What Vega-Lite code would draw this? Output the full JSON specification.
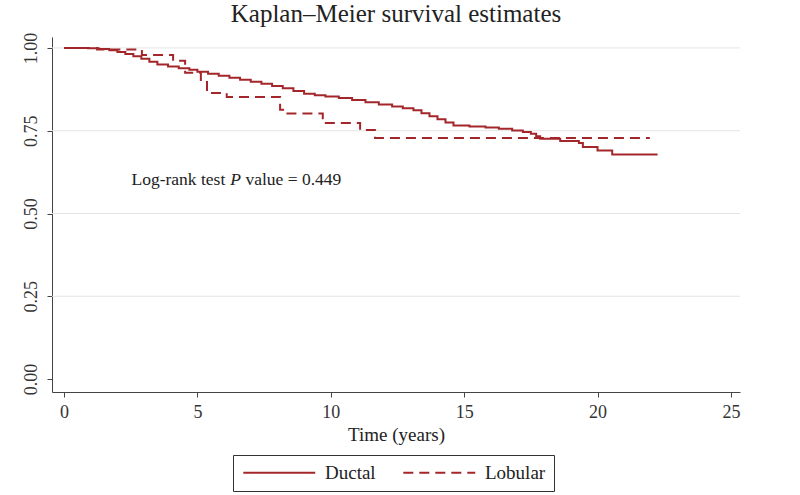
{
  "$schema": "https://vega.github.io/schema/vega-lite/v6.json",
  "width": 688,
  "height": 355,
  "autosize": {"type": "none"},
  "padding": {"left": 52, "top": 37, "right": 60, "bottom": 103},
  "background": "white",
  "config": {
    "font": "Liberation Serif",
    "view": {"stroke": null}
  },
  "title": {
    "text": "Kaplan–Meier survival estimates",
    "font": "Liberation Serif",
    "fontSize": 25,
    "fontWeight": "normal",
    "color": "#222222",
    "anchor": "middle",
    "offset": 5
  },
  "layer": [
    {
      "data": {"values": [{"surv": 0.25}, {"surv": 0.5}, {"surv": 0.75}, {"surv": 1.0}]},
      "mark": {"type": "rule", "color": "#e4e4e4", "strokeWidth": 1},
      "encoding": {
        "y": {"field": "surv", "type": "quantitative"}
      }
    },
    {
      "data": {"values": [
        {"group": "Ductal", "time": 0, "surv": 1.0},
        {"group": "Ductal", "time": 0.9, "surv": 0.999},
        {"group": "Ductal", "time": 1.3, "surv": 0.997},
        {"group": "Ductal", "time": 1.7, "surv": 0.993},
        {"group": "Ductal", "time": 2.0, "surv": 0.988},
        {"group": "Ductal", "time": 2.3, "surv": 0.982},
        {"group": "Ductal", "time": 2.6, "surv": 0.975},
        {"group": "Ductal", "time": 2.9, "surv": 0.967},
        {"group": "Ductal", "time": 3.2, "surv": 0.958},
        {"group": "Ductal", "time": 3.5, "surv": 0.95},
        {"group": "Ductal", "time": 3.9, "surv": 0.944},
        {"group": "Ductal", "time": 4.3, "surv": 0.939},
        {"group": "Ductal", "time": 4.7, "surv": 0.934},
        {"group": "Ductal", "time": 5.0, "surv": 0.928},
        {"group": "Ductal", "time": 5.4, "surv": 0.922},
        {"group": "Ductal", "time": 5.8, "surv": 0.916},
        {"group": "Ductal", "time": 6.2, "surv": 0.91},
        {"group": "Ductal", "time": 6.6, "surv": 0.904},
        {"group": "Ductal", "time": 7.0, "surv": 0.898},
        {"group": "Ductal", "time": 7.4, "surv": 0.892},
        {"group": "Ductal", "time": 7.8, "surv": 0.885},
        {"group": "Ductal", "time": 8.2, "surv": 0.878},
        {"group": "Ductal", "time": 8.6, "surv": 0.87},
        {"group": "Ductal", "time": 9.0, "surv": 0.862},
        {"group": "Ductal", "time": 9.4, "surv": 0.857},
        {"group": "Ductal", "time": 9.8, "surv": 0.853},
        {"group": "Ductal", "time": 10.3, "surv": 0.849},
        {"group": "Ductal", "time": 10.8, "surv": 0.843},
        {"group": "Ductal", "time": 11.3, "surv": 0.836},
        {"group": "Ductal", "time": 11.8, "surv": 0.829},
        {"group": "Ductal", "time": 12.3, "surv": 0.823},
        {"group": "Ductal", "time": 12.7, "surv": 0.818},
        {"group": "Ductal", "time": 13.1, "surv": 0.812},
        {"group": "Ductal", "time": 13.4, "surv": 0.803},
        {"group": "Ductal", "time": 13.7, "surv": 0.794},
        {"group": "Ductal", "time": 14.0, "surv": 0.785},
        {"group": "Ductal", "time": 14.3, "surv": 0.775},
        {"group": "Ductal", "time": 14.6, "surv": 0.766},
        {"group": "Ductal", "time": 15.2, "surv": 0.763},
        {"group": "Ductal", "time": 15.8, "surv": 0.76},
        {"group": "Ductal", "time": 16.3, "surv": 0.756},
        {"group": "Ductal", "time": 16.8, "surv": 0.751},
        {"group": "Ductal", "time": 17.2, "surv": 0.746},
        {"group": "Ductal", "time": 17.5, "surv": 0.741},
        {"group": "Ductal", "time": 17.7, "surv": 0.733},
        {"group": "Ductal", "time": 17.85, "surv": 0.726},
        {"group": "Ductal", "time": 18.6, "surv": 0.719},
        {"group": "Ductal", "time": 19.3, "surv": 0.713},
        {"group": "Ductal", "time": 19.45, "surv": 0.701},
        {"group": "Ductal", "time": 20.0, "surv": 0.69},
        {"group": "Ductal", "time": 20.55, "surv": 0.678},
        {"group": "Ductal", "time": 22.25, "surv": 0.678},
        {"group": "Lobular", "time": 0, "surv": 1.0},
        {"group": "Lobular", "time": 1.24, "surv": 0.995},
        {"group": "Lobular", "time": 2.92, "surv": 0.979},
        {"group": "Lobular", "time": 4.09, "surv": 0.961},
        {"group": "Lobular", "time": 4.54, "surv": 0.925},
        {"group": "Lobular", "time": 5.13, "surv": 0.897},
        {"group": "Lobular", "time": 5.36, "surv": 0.864},
        {"group": "Lobular", "time": 6.1, "surv": 0.852},
        {"group": "Lobular", "time": 8.1, "surv": 0.813},
        {"group": "Lobular", "time": 8.28, "surv": 0.802},
        {"group": "Lobular", "time": 9.7, "surv": 0.773},
        {"group": "Lobular", "time": 11.1, "surv": 0.752},
        {"group": "Lobular", "time": 11.66, "surv": 0.728},
        {"group": "Lobular", "time": 21.96, "surv": 0.728}
      ]},
      "mark": {"type": "line", "interpolate": "step-after", "color": "#a3262a", "strokeWidth": 2},
      "encoding": {
        "x": {
          "field": "time", "type": "quantitative",
          "scale": {"domain": [-0.45, 25.34], "nice": false, "zero": false},
          "axis": {
            "title": "Time (years)",
            "values": [0, 5, 10, 15, 20, 25],
            "grid": false,
            "domainColor": "#444444",
            "tickColor": "#444444",
            "tickSize": 5,
            "labelFont": "Liberation Serif",
            "labelFontSize": 18,
            "labelColor": "#333333",
            "labelPadding": 6,
            "titleFont": "Liberation Serif",
            "titleFontSize": 19,
            "titleFontWeight": "normal",
            "titleColor": "#222222",
            "titlePadding": 4
          }
        },
        "y": {
          "field": "surv", "type": "quantitative",
          "scale": {"domain": [-0.039, 1.033], "nice": false, "zero": false},
          "axis": {
            "title": null,
            "values": [0, 0.25, 0.5, 0.75, 1],
            "format": ".2f",
            "grid": false,
            "domainColor": "#444444",
            "tickColor": "#444444",
            "tickSize": 5,
            "labelAngle": -90,
            "labelAlign": "center",
            "labelBaseline": "alphabetic",
            "labelPadding": 11,
            "labelFont": "Liberation Serif",
            "labelFontSize": 18,
            "labelColor": "#333333"
          }
        },
        "strokeDash": {
          "field": "group", "type": "nominal",
          "scale": {"domain": ["Ductal", "Lobular"], "range": [[1, 0], [10, 6]]},
          "legend": {
            "title": null,
            "orient": "none",
            "legendX": 181,
            "legendY": 418,
            "direction": "horizontal",
            "strokeColor": "#333333",
            "padding": 8,
            "symbolType": "M-1,0H9",
            "symbolSize": 207,
            "symbolStrokeWidth": 2,
            "symbolStrokeColor": "#a3262a",
            "labelFont": "Liberation Serif",
            "labelFontSize": 19,
            "labelColor": "#222222",
            "labelOffset": 65,
            "columnPadding": 23
          }
        }
      }
    },
    {
      "data": {"values": [
        {"time": 2.53, "surv": 0.586, "label": "Log-rank test"},
        {"time": 6.80, "surv": 0.586, "label": "value = 0.449"}
      ]},
      "mark": {"type": "text", "align": "left", "baseline": "alphabetic", "font": "Liberation Serif", "fontSize": 17.5, "color": "#222222"},
      "encoding": {
        "x": {"field": "time", "type": "quantitative"},
        "y": {"field": "surv", "type": "quantitative"},
        "text": {"field": "label"}
      }
    },
    {
      "data": {"values": [
        {"time": 6.23, "surv": 0.586, "label": "P"}
      ]},
      "mark": {"type": "text", "align": "left", "baseline": "alphabetic", "font": "Liberation Serif", "fontSize": 17.5, "fontStyle": "italic", "color": "#222222"},
      "encoding": {
        "x": {"field": "time", "type": "quantitative"},
        "y": {"field": "surv", "type": "quantitative"},
        "text": {"field": "label"}
      }
    }
  ]
}
